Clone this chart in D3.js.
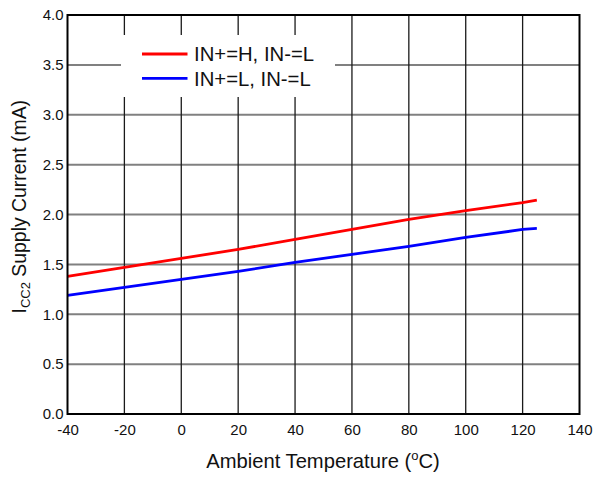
<!DOCTYPE html>
<html>
<head>
<meta charset="utf-8">
<script src="https://cdn.jsdelivr.net/npm/d3@7"></script>
<style>
  html, body { margin: 0; padding: 0; background: #fff; }
  svg { display: block; font-family: Arial, "Liberation Sans", sans-serif; }
</style>
</head>
<body>
<svg id="chart" width="593" height="477"></svg>
<script>
const temps = [-40, -20, 0, 20, 40, 60, 80, 100, 120, 125];
const seriesHigh = [1.38, 1.47, 1.56, 1.65, 1.75, 1.85, 1.95, 2.04, 2.12, 2.145];
const seriesLow  = [1.19, 1.27, 1.35, 1.43, 1.52, 1.60, 1.68, 1.77, 1.85, 1.86];
const seriesNames = ["IN+=H, IN-=L", "IN+=L, IN-=L"];
const seriesColors = ["#ff0000", "#0000ff"];
const xTicks = [-40, -20, 0, 20, 40, 60, 80, 100, 120, 140];
const yTicks = [0, 0.5, 1.0, 1.5, 2.0, 2.5, 3.0, 3.5, 4.0];

const svg = d3.select("#chart");
const L = 67.5, R = 579.5, T = 15, B = 414;

const x = d3.scaleLinear().domain([-40, 140]).range([L, R]);
const y = d3.scaleLinear().domain([0, 4]).range([B, T]);

// horizontal gridlines
svg.append("g").selectAll("line").data(yTicks.slice(1, -1)).join("line")
  .attr("x1", L).attr("x2", R)
  .attr("y1", d => y(d)).attr("y2", d => y(d))
  .attr("stroke", "#808080").attr("stroke-width", 2);

// vertical gridlines
svg.append("g").selectAll("line").data(xTicks.slice(1, -1)).join("line")
  .attr("x1", d => x(d)).attr("x2", d => x(d))
  .attr("y1", T).attr("y2", B)
  .attr("stroke", "#1a1a1a").attr("stroke-width", 1.3);

// legend background (hides grid)
svg.append("rect").attr("x", 121).attr("y", 35).attr("width", 214).attr("height", 62)
  .attr("fill", "#fff");

// series lines
const line = d3.line().x((d, i) => x(temps[i])).y(d => y(d));
[seriesHigh, seriesLow].forEach((s, k) => {
  svg.append("path").datum(s).attr("d", line)
    .attr("fill", "none").attr("stroke", seriesColors[k]).attr("stroke-width", 2.8);
});

// frame
svg.append("rect").attr("x", L).attr("y", T).attr("width", R - L).attr("height", B - T)
  .attr("fill", "none").attr("stroke", "#000").attr("stroke-width", 2);

// axes
const xAxis = d3.axisBottom(x).tickValues(xTicks).tickSize(0).tickPadding(10)
  .tickFormat(d => String(d));
svg.append("g").attr("transform", `translate(0,${B})`).call(xAxis)
  .call(g => g.select(".domain").remove())
  .selectAll("text").attr("font-size", 15).attr("fill", "#111").attr("font-family", "Arial, 'Liberation Sans', sans-serif");

const yAxis = d3.axisLeft(y).tickValues(yTicks).tickSize(0).tickPadding(4)
  .tickFormat(d => d.toFixed(1));
svg.append("g").attr("transform", `translate(${L},0)`).call(yAxis)
  .call(g => g.select(".domain").remove())
  .selectAll("text").attr("font-size", 15).attr("fill", "#111").attr("font-family", "Arial, 'Liberation Sans', sans-serif");

// legend
seriesNames.forEach((n, k) => {
  const ly = 54 + k * 24.3;
  svg.append("line").attr("x1", 142).attr("x2", 187.5).attr("y1", ly).attr("y2", ly)
    .attr("stroke", seriesColors[k]).attr("stroke-width", 2.8);
  svg.append("text").attr("x", 194).attr("y", ly).attr("dy", "0.36em")
    .attr("font-size", 20.3).attr("fill", "#111").text(n);
});

// x title
const xt = svg.append("text").attr("x", (207 + 439) / 2).attr("y", 467.5)
  .attr("text-anchor", "middle").attr("font-size", 20.2).attr("fill", "#111");
xt.append("tspan").text("Ambient Temperature (");
xt.append("tspan").attr("font-size", 13).attr("dy", -8).text("o");
xt.append("tspan").attr("dy", 8).text("C)");

// y title
const yt = svg.append("text").attr("transform", "translate(25.5,206.7) rotate(-90)")
  .attr("text-anchor", "middle").attr("font-size", 19.4).attr("fill", "#111");
yt.append("tspan").text("I");
yt.append("tspan").attr("font-size", 13).attr("dy", 4).text("CC2");
yt.append("tspan").attr("dy", -4).text(" Supply Current (mA)");
</script>
</body>
</html>
